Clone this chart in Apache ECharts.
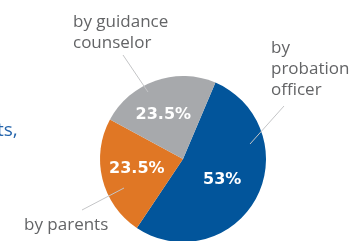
<!DOCTYPE html>
<html><head><meta charset="utf-8">
<script src="https://cdn.jsdelivr.net/npm/echarts@6/dist/echarts.min.js"></script>
<style>html,body{margin:0;padding:0;background:#fff;overflow:hidden}#c{width:356px;height:241px}</style>
</head><body><div id="c"></div>
<script>
// Data
const categories = ['by\nprobation\nofficer', 'by parents', 'by guidance\ncounselor'];
const values = [53, 23.5, 23.5];
const valueLabels = ['53%', '23.5%', '23.5%'];
const sideText = 'ts,';

// Styles / layout (not data)
const colors = ['#02559b', '#e07725', '#a7a9ac'];
const innerOffsets = [[0, 0], [-3, -1], [-5, -2]];
const outerLayout = [
  { x: 271, y: 38, line: [[284, 106], [250, 144]] },
  { x: 24, y: 215, line: [[82, 210], [124, 188]] },
  { x: 73, y: 12, line: [[123, 55], [148, 92]] }
];

const chart = echarts.init(document.getElementById('c'), null, { renderer: 'canvas' });

const innerData = categories.map((c, i) => ({
  name: c, value: values[i],
  itemStyle: { color: colors[i] },
  label: { offset: innerOffsets[i] }
}));
const outerData = categories.map((c, i) => ({ name: c, value: values[i] }));

chart.setOption({
  animation: false,
  graphic: [{
    type: 'text', left: -3, top: 121,
    style: { text: sideText, fill: '#2464ab', font: '19px "Open Sans"' }
  }],
  series: [{
    type: 'pie',
    center: [183, 159],
    radius: 83,
    startAngle: 67,
    clockwise: true,
    silent: true,
    data: innerData,
    label: {
      show: true, position: 'inside',
      formatter: p => valueLabels[p.dataIndex],
      color: '#ffffff', fontFamily: 'DejaVu Sans', fontWeight: 'bold', fontSize: 16
    },
    labelLine: { show: false }
  }, {
    type: 'pie',
    center: [183, 159],
    radius: 83,
    startAngle: 67,
    clockwise: true,
    silent: true,
    z: 3,
    avoidLabelOverlap: false,
    data: outerData,
    itemStyle: { color: 'rgba(0,0,0,0)' },
    label: {
      show: true, position: 'outside',
      formatter: p => p.name,
      color: '#636466', fontFamily: 'Open Sans', fontSize: 17, lineHeight: 21,
      align: 'left'
    },
    labelLine: { show: true, lineStyle: { color: '#c4c5c7', width: 1 } },
    labelLayout: function (p) {
      const o = outerLayout[p.dataIndex];
      return { x: o.x, y: o.y, align: 'left', verticalAlign: 'top', labelLinePoints: o.line };
    }
  }]
});
</script>
</body></html>
